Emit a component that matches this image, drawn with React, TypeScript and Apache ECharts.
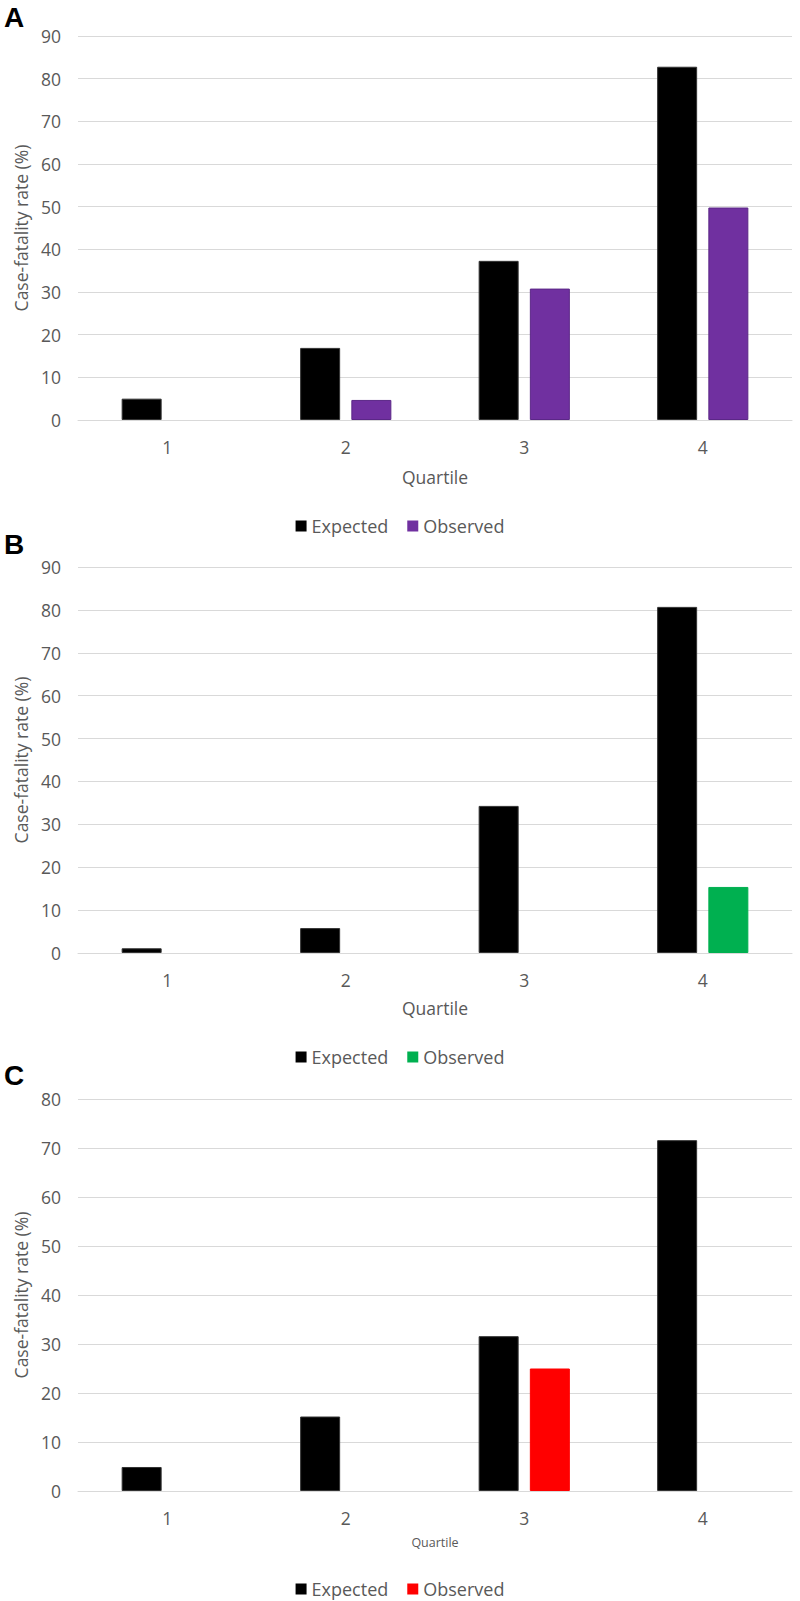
import React, { useEffect, useRef } from 'react';
import * as echarts from 'echarts';

// quartile categories shared by the three panels
const quartiles = ['1', '2', '3', '4'];

// panel A
const expectedA = [5.0, 16.9, 37.3, 82.8];
const observedA = [0, 4.7, 30.8, 49.8];
// panel B
const expectedB = [1.1, 5.8, 34.3, 80.7];
const observedB = [0, 0, 0, 15.4];
// panel C
const expectedC = [4.9, 15.2, 31.6, 71.6];
const observedC = [0, 0, 25.0, 0];

const panelLabels = ['A', 'B', 'C'];
const yMax = [90, 90, 80];

const FONT = '"Open Sans", "Noto Sans", sans-serif';
const TEXT = '#595959';
const GRID = '#d9d9d9';

interface Panel {
  top: number;
  height: number;
  expected: number[];
  observed: number[];
  color: string;
  border: string;
  legendTop: number;
  nameSize: number;
  nameGap: number;
  letterY: number;
}

const panels: Panel[] = [
  { top: 36, height: 384, expected: expectedA, observed: observedA, color: '#7030a0', border: '#5b2787', legendTop: 512, nameSize: 17.5, nameGap: 48, letterY: 19 },
  { top: 567, height: 386, expected: expectedB, observed: observedB, color: '#00b050', border: '#00b050', legendTop: 1043, nameSize: 17.5, nameGap: 46, letterY: 546 },
  { top: 1099, height: 392, expected: expectedC, observed: observedC, color: '#ff0000', border: '#ff0000', legendTop: 1575, nameSize: 12.5, nameGap: 45, letterY: 1077 },
];

const App: React.FC = () => {
  const chartRef = useRef<HTMLDivElement>(null);

  useEffect(() => {
    if (!chartRef.current) return;
    const chart = echarts.init(chartRef.current, undefined, { renderer: 'svg' });

    const grid = panels.map(p => ({ left: 78, right: 8, top: p.top, height: p.height }));

    const xAxis = panels.map((p, i) => ({
      type: 'category',
      gridIndex: i,
      data: quartiles,
      name: 'Quartile',
      nameLocation: 'middle',
      nameGap: p.nameGap,
      nameTextStyle: { color: TEXT, fontSize: p.nameSize, fontFamily: FONT },
      axisLine: { lineStyle: { color: GRID, width: 1 } },
      axisTick: { show: false },
      axisLabel: { color: TEXT, fontSize: 17.5, fontFamily: FONT, margin: 18 },
    }));

    const yAxis = panels.map((p, i) => ({
      type: 'value',
      gridIndex: i,
      min: 0,
      max: yMax[i],
      interval: 10,
      name: 'Case-fatality rate (%)',
      nameLocation: 'middle',
      nameGap: 45,
      nameTextStyle: { color: TEXT, fontSize: 17.5, fontFamily: FONT },
      axisLine: { show: false },
      axisTick: { show: false },
      axisLabel: { color: TEXT, fontSize: 17.5, fontFamily: FONT, margin: 17 },
      splitLine: { lineStyle: { color: GRID, width: 1 } },
    }));

    const series: any[] = [];
    panels.forEach((p, i) => {
      series.push({
        name: 'Expected',
        type: 'bar',
        xAxisIndex: i,
        yAxisIndex: i,
        data: p.expected,
        barWidth: 40,
        barGap: '28%',
        itemStyle: { color: '#000000', borderColor: '#333333', borderWidth: 1 },
      });
      series.push({
        name: 'Observed',
        type: 'bar',
        xAxisIndex: i,
        yAxisIndex: i,
        data: p.observed.map(v => (v === 0 ? '-' : v)),
        barWidth: 40,
        barGap: '28%',
        itemStyle: { color: p.color, borderColor: p.border, borderWidth: 1 },
      });
    });

    // one legend per panel, each only listing that panel's two series
    const legend = panels.map((p, i) => ({
      top: p.legendTop,
      left: 'center',
      icon: 'rect',
      itemWidth: 11,
      itemHeight: 11,
      itemGap: 19,
      textStyle: { color: TEXT, fontSize: 18, fontFamily: FONT },
      data: [
        { name: 'Expected', itemStyle: { color: '#000000', borderWidth: 0 } },
        { name: 'Observed', itemStyle: { color: p.color, borderWidth: 0 } },
      ],
      selectedMode: false,
    }));

    const graphic = panels.map((p, i) => ({
      type: 'text',
      left: 4,
      top: p.letterY - 16,
      style: {
        text: panelLabels[i],
        fill: '#000000',
        font: 'bold 28px "Liberation Sans", Arial, sans-serif',
      },
    }));

    chart.setOption({
      animation: false,
      backgroundColor: '#ffffff',
      grid,
      xAxis,
      yAxis,
      series,
      legend,
      graphic,
    });

    return () => {
      chart.dispose();
    };
  }, []);

  return (
    <div
      ref={chartRef}
      style={{ position: 'absolute', left: 0, top: 0, width: 800, height: 1601 }}
    />
  );
};

export default App;
